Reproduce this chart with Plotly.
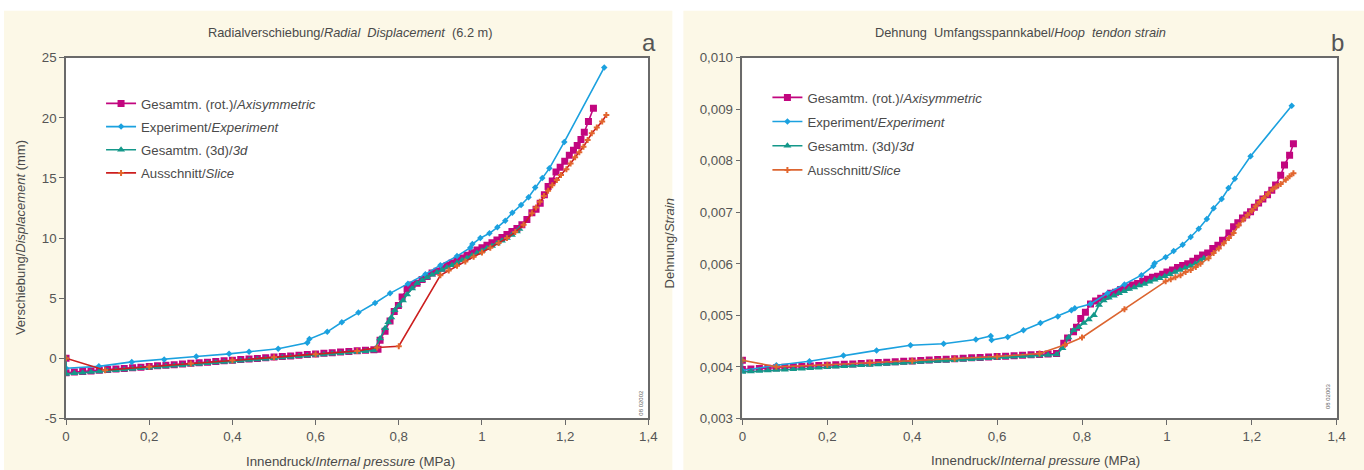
import plotly.graph_objects as go

# ---------------- Panel a: radial displacement (mm) ----------------
a_rot_x = [0, 0, 0.02, 0.04, 0.06, 0.08, 0.10, 0.12, 0.14, 0.16, 0.18, 0.20, 0.22, 0.24, 0.26, 0.28,
           0.30, 0.32, 0.34, 0.36, 0.38, 0.40, 0.42, 0.44, 0.46, 0.48, 0.50, 0.52, 0.54, 0.56, 0.58,
           0.60, 0.62, 0.64, 0.66, 0.68, 0.70, 0.72, 0.74, 0.75,
           0.755, 0.767, 0.779, 0.789, 0.799, 0.808, 0.82, 0.832, 0.844, 0.856, 0.868, 0.88, 0.892,
           0.904, 0.916, 0.928, 0.94, 0.952, 0.964, 0.976, 0.988, 1.0, 1.012, 1.024, 1.036, 1.048,
           1.06, 1.072, 1.084, 1.096, 1.108, 1.12, 1.13, 1.14, 1.15, 1.159, 1.169, 1.178, 1.188,
           1.199, 1.21, 1.22, 1.229, 1.238, 1.246, 1.256, 1.268]
a_rot_y = [0, -1.2, -1.15, -1.10, -1.05, -1.0, -0.94, -0.89, -0.84, -0.79, -0.74, -0.68, -0.63, -0.58,
           -0.53, -0.47, -0.42, -0.37, -0.32, -0.27, -0.21, -0.16, -0.11, -0.06, -0.01, 0.05, 0.10,
           0.15, 0.20, 0.26, 0.31, 0.36, 0.41, 0.46, 0.52, 0.57, 0.62, 0.67, 0.72, 0.75,
           1.5, 2.25, 3.1, 3.9, 4.4, 5.1, 5.8, 6.1, 6.25, 6.55, 6.8, 7.1, 7.25,
           7.5, 7.72, 7.93, 8.15, 8.35, 8.57, 8.78, 9.0, 9.2, 9.4, 9.62, 9.83, 10.05,
           10.3, 10.55, 10.8, 11.1, 11.55, 12.1, 12.4, 12.9, 13.6, 14.3, 14.75, 15.5, 15.9,
           16.4, 16.9, 17.3, 17.7, 18.2, 18.8, 19.7, 20.8]

a_exp_x = [0, 0.079, 0.158, 0.236, 0.313, 0.392, 0.44, 0.51, 0.58, 0.585, 0.628, 0.663, 0.703,
           0.743, 0.779, 0.822, 0.864, 0.90, 0.94, 0.972, 0.977, 0.996, 1.018, 1.037, 1.056,
           1.073, 1.094, 1.112, 1.128, 1.145, 1.162, 1.198, 1.294]
a_exp_y = [-0.83, -0.67, -0.3, -0.1, 0.15, 0.37, 0.55, 0.8, 1.3, 1.6, 2.2, 3.0, 3.8,
           4.6, 5.4, 6.2, 7.0, 7.75, 8.5, 9.2, 9.5, 10.0, 10.4, 10.9, 11.45,
           12.1, 12.75, 13.4, 14.2, 15.0, 15.8, 18.0, 24.2]

a_3d_x = [0, 0, 0.02, 0.04, 0.06, 0.08, 0.10, 0.12, 0.14, 0.16, 0.18, 0.20, 0.22, 0.24, 0.26, 0.28,
          0.30, 0.32, 0.34, 0.36, 0.38, 0.40, 0.42, 0.44, 0.46, 0.48, 0.50, 0.52, 0.54, 0.56, 0.58,
          0.60, 0.62, 0.64, 0.66, 0.68, 0.70, 0.72, 0.74,
          0.755, 0.767, 0.775, 0.782, 0.79, 0.80, 0.81, 0.82, 0.832, 0.844, 0.856, 0.868, 0.88,
          0.892, 0.904, 0.916, 0.928, 0.94, 0.952, 0.964, 0.976, 0.988, 1.0, 1.012, 1.024, 1.036,
          1.048, 1.06, 1.072, 1.084, 1.09]
a_3d_y = [0, -1.3, -1.25, -1.2, -1.15, -1.1, -1.04, -0.99, -0.94, -0.89, -0.83, -0.78, -0.73, -0.68,
          -0.62, -0.57, -0.52, -0.47, -0.42, -0.36, -0.31, -0.26, -0.21, -0.15, -0.10, -0.05, 0.0,
          0.06, 0.11, 0.16, 0.21, 0.27, 0.32, 0.37, 0.42, 0.48, 0.53, 0.58, 0.65,
          1.65, 2.5, 3.0, 3.4, 4.0, 4.4, 4.8, 5.3, 5.8, 6.25, 6.5, 6.72, 6.95,
          7.15, 7.35, 7.55, 7.75, 7.95, 8.15, 8.35, 8.55, 8.75, 8.95, 9.15, 9.35, 9.55,
          9.78, 10.0, 10.25, 10.55, 10.75]

a_slice_x = [0, 0.094, 0.2, 0.3, 0.4, 0.5, 0.6, 0.7, 0.748, 0.80, 0.90, 0.92, 0.94, 0.96, 0.98,
             1.0, 1.02, 1.04, 1.06, 1.08, 1.10, 1.12, 1.13, 1.139, 1.149, 1.159, 1.169, 1.18,
             1.19, 1.203, 1.213, 1.224, 1.234, 1.244, 1.254, 1.264, 1.276, 1.289, 1.299]
a_slice_y = [0, -1.0, -0.7, -0.43, -0.17, 0.08, 0.34, 0.6, 0.9, 1.0, 6.9, 7.3, 7.7, 8.05, 8.45,
             8.8, 9.2, 9.6, 10.0, 10.5, 11.1, 12.06, 12.55, 13.03, 13.5, 13.94, 14.4, 14.83,
             15.25, 15.72, 16.2, 16.72, 17.15, 17.6, 18.15, 18.72, 19.2, 19.7, 20.25]

# ---------------- Panel b: hoop tendon strain ----------------
b_rot_x = [0, 0, 0.02, 0.04, 0.06, 0.08, 0.10, 0.12, 0.14, 0.16, 0.18, 0.20, 0.22, 0.24, 0.26, 0.28,
           0.30, 0.32, 0.34, 0.36, 0.38, 0.40, 0.42, 0.44, 0.46, 0.48, 0.50, 0.52, 0.54, 0.56, 0.58,
           0.60, 0.62, 0.64, 0.66, 0.68, 0.70, 0.72, 0.74,
           0.757, 0.766, 0.78, 0.787, 0.797, 0.808, 0.82, 0.832, 0.844, 0.856, 0.867, 0.879, 0.891,
           0.907, 0.919, 0.931, 0.943, 0.954, 0.966, 0.978, 0.99, 1.0, 1.013, 1.025, 1.037, 1.049,
           1.061, 1.072, 1.084, 1.096, 1.108, 1.12, 1.131, 1.146, 1.157, 1.167, 1.178, 1.188,
           1.197, 1.206, 1.216, 1.226, 1.237, 1.247, 1.256, 1.268, 1.277, 1.289, 1.298]
b_rot_y = [0.00413, 0.00395, 0.003958, 0.003967, 0.003975, 0.003983, 0.003992, 0.004000, 0.004008,
           0.004017, 0.004025, 0.004033, 0.004042, 0.004050, 0.004058, 0.004066, 0.004075, 0.004083,
           0.004091, 0.004100, 0.004108, 0.004116, 0.004125, 0.004133, 0.004141, 0.004150, 0.004158,
           0.004166, 0.004175, 0.004183, 0.004191, 0.004200, 0.004208, 0.004216, 0.004225, 0.004233,
           0.004241, 0.004250, 0.004258,
           0.00446, 0.00456, 0.00468, 0.00477, 0.00494, 0.00506, 0.00522, 0.00528, 0.00533, 0.00537,
           0.00543, 0.00545, 0.0055, 0.00555, 0.00559, 0.00562, 0.00566, 0.0057, 0.00574, 0.00576,
           0.0058, 0.00584, 0.00588, 0.00593, 0.00597, 0.006, 0.00605, 0.00611, 0.00617, 0.00621,
           0.0063, 0.00636, 0.00646, 0.0066, 0.00672, 0.0068, 0.00689, 0.00695, 0.00701, 0.0071,
           0.00718, 0.00726, 0.00734, 0.00743, 0.00753, 0.00772, 0.00792, 0.00811, 0.00833]

b_exp_x = [0, 0.08, 0.158, 0.238, 0.316, 0.396, 0.474, 0.55, 0.585, 0.587, 0.625, 0.662, 0.702,
           0.743, 0.775, 0.783, 0.82, 0.86, 0.9, 0.94, 0.968, 0.971, 0.997, 1.016, 1.037, 1.056,
           1.075, 1.094, 1.11, 1.129, 1.145, 1.16, 1.197, 1.294]
b_exp_y = [0.00393, 0.00403, 0.00411, 0.00422, 0.00432, 0.00442, 0.00445, 0.00453, 0.0046, 0.00452,
           0.00458, 0.00471, 0.00485, 0.00498, 0.0051, 0.00514, 0.00522, 0.00543, 0.0056, 0.00578,
           0.00596, 0.00601, 0.00613, 0.00625, 0.00637, 0.00652, 0.00668, 0.00687, 0.00708,
           0.00726, 0.00747, 0.00765, 0.00809, 0.00907]

b_3d_x = [0, 0, 0.02, 0.04, 0.06, 0.08, 0.10, 0.12, 0.14, 0.16, 0.18, 0.20, 0.22, 0.24, 0.26, 0.28,
          0.30, 0.32, 0.34, 0.36, 0.38, 0.40, 0.42, 0.44, 0.46, 0.48, 0.50, 0.52, 0.54, 0.56, 0.58,
          0.60, 0.62, 0.64, 0.66, 0.68, 0.70, 0.72, 0.74,
          0.754, 0.768, 0.78, 0.792, 0.804, 0.816, 0.828, 0.84, 0.851, 0.863, 0.875, 0.887, 0.899,
          0.911, 0.923, 0.935, 0.947, 0.959, 0.971, 0.983, 0.995, 1.007, 1.019, 1.031, 1.043,
          1.055, 1.067, 1.079, 1.087]
b_3d_y = [0.00413, 0.00390, 0.003909, 0.003918, 0.003928, 0.003937, 0.003946, 0.003955, 0.003964,
          0.003974, 0.003983, 0.003992, 0.004001, 0.004010, 0.004020, 0.004029, 0.004038, 0.004047,
          0.004056, 0.004066, 0.004075, 0.004084, 0.004093, 0.004102, 0.004112, 0.004121, 0.004130,
          0.004139, 0.004148, 0.004158, 0.004167, 0.004176, 0.004185, 0.004194, 0.004204, 0.004213,
          0.004222, 0.004231, 0.004240,
          0.00436, 0.00457, 0.00471, 0.00477, 0.00485, 0.00492, 0.005, 0.0052, 0.00529, 0.00534,
          0.00538, 0.00543, 0.00547, 0.00551, 0.00554, 0.00558, 0.00561, 0.00565, 0.00569, 0.00572,
          0.00576, 0.0058, 0.00584, 0.00588, 0.00592, 0.00596, 0.006, 0.00606, 0.00611]

b_slice_x = [0, 0.08, 0.2, 0.3, 0.4, 0.5, 0.6, 0.7, 0.76, 0.8, 0.9, 0.997, 1.009, 1.02, 1.032,
             1.044, 1.056, 1.068, 1.079, 1.098, 1.11, 1.122, 1.134, 1.146, 1.157, 1.169, 1.18,
             1.19, 1.2, 1.209, 1.218, 1.228, 1.238, 1.249, 1.258, 1.268, 1.28, 1.289, 1.298]
b_slice_y = [0.00413, 0.0040, 0.00404, 0.00408, 0.00412, 0.00416, 0.0042, 0.00426, 0.00443, 0.00457,
             0.00512, 0.00566, 0.0057, 0.00574, 0.00578, 0.00584, 0.00588, 0.00594, 0.006, 0.00611,
             0.00621, 0.0063, 0.0064, 0.0065, 0.0066, 0.00675, 0.00686, 0.00695, 0.00703, 0.00712,
             0.0072, 0.00728, 0.00736, 0.00745, 0.0075, 0.00755, 0.00763, 0.0077, 0.00776]

series_names = ["Gesamtm. (rot.)/<i>Axisymmetric</i>", "Experiment/<i>Experiment</i>",
                "Gesamtm. (3d)/<i>3d</i>", "Ausschnitt/<i>Slice</i>"]

a_y_ticks = [-5, 0, 5, 10, 15, 20, 25]
a_y_ticktext = ["-5", "0", "5", "10", "15", "20", "25"]

# ---------------- layout geometry ----------------
# Target positions below are given in pixels of the 1364x470 picture; the
# rendering pipeline shows the page slightly reduced and offset, so the
# figure is laid out to compensate for it.
SX, OX = 0.99, 4.0
SY, OY = 0.967, 7.3
W, H = 1374, 478

def px_x(r):
    return (r - OX) / SX

def px_y(r):
    return (r - OY) / SY

def fx(r):
    return px_x(r) / W

def fy(r):
    return 1 - px_y(r) / H

C_ROT = "#c2067f"
C_EXP = "#1ba1df"
C_3D = "#14988a"
C_SLICE_LINE_A = "#cc1f1f"
C_SLICE_LINE_B = "#dc6530"
C_SLICE_MK = "#e2662e"
TXT = "#4a4a4a"
FONT = "Liberation Sans"
CREAM = "#fcf8e7"

fig = go.Figure()

def add_panel(xs, ys, slice_line, xa, ya, leg):
    (rx, ry), (ex, ey), (dx, dy), (sx, sy) = zip(xs, ys)
    fig.add_trace(go.Scatter(x=rx, y=ry, name=series_names[0], mode="lines+markers",
                             line=dict(color=C_ROT, width=1.6),
                             marker=dict(symbol="square", size=7, color=C_ROT),
                             xaxis=xa, yaxis=ya, legend=leg, legendgroup=leg + "1"))
    fig.add_trace(go.Scatter(x=ex, y=ey, name=series_names[1], mode="lines+markers",
                             line=dict(color=C_EXP, width=1.6),
                             marker=dict(symbol="diamond", size=5, color=C_EXP),
                             xaxis=xa, yaxis=ya, legend=leg, legendgroup=leg + "2"))
    fig.add_trace(go.Scatter(x=dx, y=dy, name=series_names[2], mode="lines+markers",
                             line=dict(color=C_3D, width=1.6),
                             marker=dict(symbol="triangle-up", size=7, color=C_3D),
                             xaxis=xa, yaxis=ya, legend=leg, legendgroup=leg + "3"))
    fig.add_trace(go.Scatter(x=sx, y=sy, name=series_names[3], mode="lines+markers",
                             line=dict(color=slice_line, width=1.6),
                             marker=dict(symbol="cross", size=5, color=C_SLICE_MK),
                             xaxis=xa, yaxis=ya, legend=leg, legendgroup=leg + "4"))

add_panel([a_rot_x, a_exp_x, a_3d_x, a_slice_x], [a_rot_y, a_exp_y, a_3d_y, a_slice_y],
          C_SLICE_LINE_A, "x", "y", "legend")
add_panel([b_rot_x, b_exp_x, b_3d_x, b_slice_x], [b_rot_y, b_exp_y, b_3d_y, b_slice_y],
          C_SLICE_LINE_B, "x2", "y2", "legend2")

axis_common = dict(showgrid=False, zeroline=False, showline=True, mirror=True,
                   linecolor="#6a6a6a", linewidth=1.5, ticks="outside", ticklen=5,
                   tickcolor="#6a6a6a", tickwidth=1,
                   tickfont=dict(family=FONT, size=13.3, color="#555555"))

ydom = [fy(418), fy(58)]
fig.update_layout(
    width=W, height=H, margin=dict(l=0, r=0, t=0, b=0),
    paper_bgcolor="white", plot_bgcolor="white",
    separators=",.",
    hovermode=False,
    font=dict(family=FONT, color=TXT),
    xaxis=dict(domain=[fx(66), fx(648)], range=[0, 1.4], dtick=0.2, tick0=0, anchor="y", **axis_common),
    yaxis=dict(domain=ydom, range=[-5, 25], tickvals=a_y_ticks, ticktext=a_y_ticktext,
               anchor="x", **axis_common),
    xaxis2=dict(domain=[fx(742), fx(1336)], range=[0, 1.4], dtick=0.2, tick0=0, anchor="y2", **axis_common),
    yaxis2=dict(domain=ydom, range=[0.003, 0.010], dtick=0.001, tick0=0.003, tickformat=".3f",
                anchor="x2", **axis_common),
    legend=dict(x=fx(101), y=fy(88.5), xanchor="left", yanchor="top", bgcolor="rgba(0,0,0,0)",
                font=dict(family=FONT, size=13.2, color=TXT), tracegroupgap=3, itemwidth=30),
    legend2=dict(x=fx(767), y=fy(82.5), xanchor="left", yanchor="top", bgcolor="rgba(0,0,0,0)",
                 font=dict(family=FONT, size=13.2, color=TXT), tracegroupgap=4, itemwidth=30),
)

shapes = [
    dict(type="rect", xref="paper", yref="paper", x0=fx(4), x1=fx(672), y0=fy(470), y1=fy(11),
         fillcolor=CREAM, line=dict(width=0), layer="below"),
    dict(type="rect", xref="paper", yref="paper", x0=fx(683), x1=fx(1366), y0=fy(470), y1=fy(11),
         fillcolor=CREAM, line=dict(width=0), layer="below"),
    dict(type="rect", xref="paper", yref="paper", x0=fx(66), x1=fx(648), y0=fy(418), y1=fy(58),
         fillcolor="white", line=dict(width=0), layer="below"),
    dict(type="rect", xref="paper", yref="paper", x0=fx(742), x1=fx(1336), y0=fy(418), y1=fy(58),
         fillcolor="white", line=dict(width=0), layer="below"),
]
fig.update_layout(shapes=shapes)

def ann(text, x, y, size=12.8, angle=0, color=TXT, xanchor="center"):
    return dict(text=text, x=fx(x), y=fy(y), xref="paper", yref="paper", showarrow=False,
                textangle=angle, xanchor=xanchor, yanchor="middle",
                font=dict(family=FONT, size=size, color=color))

fig.update_layout(annotations=[
    ann("Radialverschiebung/<i>Radial  Displacement</i>  (6.2 m)", 350, 33),
    ann("a", 649, 43, size=24, color="#555555"),
    ann("Dehnung  Umfangsspannkabel/<i>Hoop  tendon strain</i>", 1020, 33),
    ann("b", 1337, 43, size=24, color="#555555"),
    ann("Verschiebung/<i>Displacement</i> (mm)", 20, 238, size=13, angle=-90),
    ann("Dehnung/<i>Strain</i>", 669, 243, size=13, angle=-90),
    ann("Innendruck/<i>Internal pressure</i> (MPa)", 350, 461, size=13.3),
    ann("Innendruck/<i>Internal pressure</i> (MPa)", 1035, 460, size=13.3),
    ann("08 02002", 641, 402, size=6, angle=-90, color="#666666"),
    ann("08 02003", 1328, 396, size=6, angle=-90, color="#666666"),
])

fig.write_html("out.html")
